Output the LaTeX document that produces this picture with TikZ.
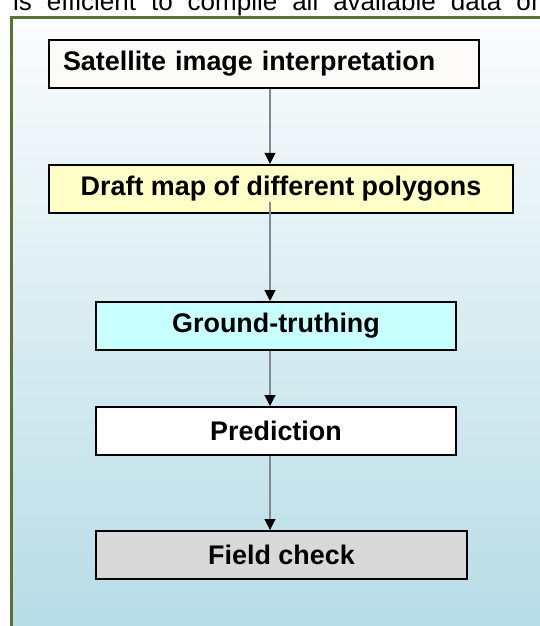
\documentclass[tikz,border=0pt]{standalone}
\usepackage{fontspec}
\setmainfont{Liberation Sans}
\usetikzlibrary{arrows.meta}
\definecolor{frameol}{HTML}{5A7232}
\definecolor{bgtop}{HTML}{FBFCFD}
\definecolor{bgbot}{HTML}{B6DCE6}
\definecolor{fillA}{HTML}{FCFBF8}
\definecolor{fillB}{HTML}{FFFFC8}
\definecolor{fillC}{HTML}{C8FFFF}
\definecolor{fillE}{HTML}{D9D9D9}
\definecolor{linegray}{HTML}{7D8A92}
\tikzset{
  stepbox/.style={draw=black, line width=2pt, minimum height=48pt, inner sep=0pt,
    font=\fontsize{26.9}{30}\selectfont\bfseries, text=black},
  flowarr/.style={draw=linegray, line width=1.1pt,
    -{Triangle[width=11pt,length=11pt,fill=black,color=black]}},
}
\begin{document}
\begin{tikzpicture}[x=1pt,y=-1pt]
\useasboundingbox (0,0) rectangle (540,626);
\clip (0,0) rectangle (540,626);
% page text above the frame
\node[anchor=base west, inner sep=0pt, font=\fontsize{26}{30}\selectfont] (toptext) at (13,11)
  {\hbox to 525pt{is\hfill efficient\hfill to\hfill compile\hfill all\hfill available\hfill data\hfill of}};
% frame with gradient background
\shade[top color=bgtop, bottom color=bgbot] (11.5,17.5) rectangle (560,640);
\draw[frameol, line width=2.6pt] (11.5,640) -- (11.5,17.5) -- (560,17.5);
% boxes
\node[stepbox, fill=fillA, minimum width=430pt, text width=402pt, align=left] (b1) at (264,63.7) {Satellite image interpretation};
\node[stepbox, fill=fillB, minimum width=464pt] (b2) at (281,188.8) {Draft map of different polygons};
\node[stepbox, fill=fillC, minimum width=360pt] (b3) at (276,326) {Ground-truthing};
\node[stepbox, fill=white, minimum width=360pt] (b4) at (276,431) {Prediction};
\node[stepbox, fill=fillE, minimum width=371pt] (b5) at (281.5,555) {Field check};
% arrows
\coordinate (ax) at (270,0);
\coordinate (b2s) at ([yshift=12pt]b2.south -| ax);
\draw[flowarr] (b1.south -| ax) -- (b2.north -| ax);
\draw[flowarr] (b2s) -- (b3.north -| ax);
\draw[flowarr] (b3.south -| ax) -- (b4.north -| ax);
\draw[flowarr] (b4.south -| ax) -- (b5.north -| ax);
\end{tikzpicture}
\end{document}
